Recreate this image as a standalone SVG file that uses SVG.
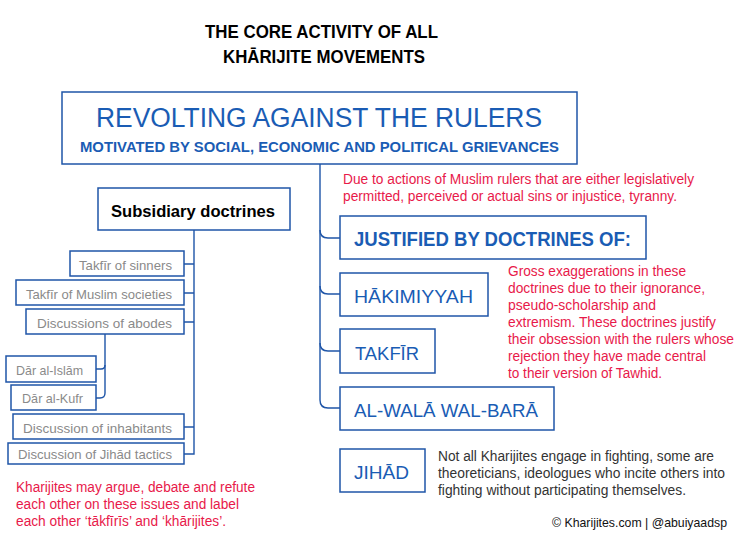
<svg xmlns="http://www.w3.org/2000/svg" width="749" height="545" viewBox="0 0 749 545">
<style>
text{font-family:"Liberation Sans",Arial,sans-serif}
.box{fill:#fff;stroke:#1f55a8;stroke-width:1.5}
.conn{fill:none;stroke:#1f55a8;stroke-width:1.4}
.title{font-weight:bold;font-size:18px;fill:#000}
.blue{fill:#1a5cb4}
.grey{fill:#8a8a8a;font-size:13.5px}
.red{fill:#e8194a;font-size:14px}
.dark{fill:#333;font-size:14px}
</style>
<rect width="749" height="545" fill="#fff"/>
<g id="title">
<text class="title" x="205" y="38" textLength="233" lengthAdjust="spacingAndGlyphs">THE CORE ACTIVITY OF ALL</text>
<text class="title" x="223" y="63" textLength="202" lengthAdjust="spacingAndGlyphs">KHĀRIJITE MOVEMENTS</text>
</g>
<g id="connectors">
<path class="conn" d="M320,164 V400 Q320,408 328,408 H340"/>
<path class="conn" d="M320,230 Q320,238 328,238 H340"/>
<path class="conn" d="M320,286 Q320,294 328,294 H340"/>
<path class="conn" d="M320,343 Q320,351 328,351 H340"/>
<path class="conn" d="M194,230 V454 H184"/>
<path class="conn" d="M184,264 H194 M184,293 H194 M184,322 H194 M184,427 H194"/>
<path class="conn" d="M105,334 V393 Q105,398 100,398 H96"/>
<path class="conn" d="M96,369 H101 Q105,369 105,365"/>
</g>
<g id="main">
<rect class="box" x="62" y="92" width="515" height="72"/>
<text class="blue" x="96" y="127" font-size="27" textLength="446" lengthAdjust="spacingAndGlyphs">REVOLTING AGAINST THE RULERS</text>
<text class="blue" x="80" y="152" font-size="14" font-weight="bold" textLength="479" lengthAdjust="spacingAndGlyphs">MOTIVATED BY SOCIAL, ECONOMIC AND POLITICAL GRIEVANCES</text>
</g>
<g id="reason">
<text class="red" x="343" y="184" textLength="351" lengthAdjust="spacingAndGlyphs">Due to actions of Muslim rulers that are either legislatively</text>
<text class="red" x="343" y="201" textLength="334" lengthAdjust="spacingAndGlyphs">permitted, perceived or actual sins or injustice, tyranny.</text>
</g>
<g id="justified">
<rect class="box" x="340" y="216" width="306" height="43"/>
<text class="blue" x="354" y="246" font-size="20" font-weight="bold" textLength="277" lengthAdjust="spacingAndGlyphs">JUSTIFIED BY DOCTRINES OF:</text>
</g>
<g id="hakimiyyah">
<rect class="box" x="340" y="273" width="148" height="43"/>
<text class="blue" x="354" y="303" font-size="19" textLength="119" lengthAdjust="spacingAndGlyphs">HĀKIMIYYAH</text>
</g>
<g id="takfir">
<rect class="box" x="340" y="329" width="95" height="44"/>
<text class="blue" x="355" y="360" font-size="19" textLength="64" lengthAdjust="spacingAndGlyphs">TAKFĪR</text>
</g>
<g id="walabara">
<rect class="box" x="340" y="387" width="214" height="43"/>
<text class="blue" x="354" y="417" font-size="19" textLength="184" lengthAdjust="spacingAndGlyphs">AL-WALĀ WAL-BARĀ</text>
</g>
<g id="jihad">
<rect class="box" x="340" y="449" width="85" height="43"/>
<text class="blue" x="354" y="479" font-size="19" textLength="55" lengthAdjust="spacingAndGlyphs">JIHĀD</text>
</g>
<g id="gross">
<text class="red" x="508" y="276" textLength="178" lengthAdjust="spacingAndGlyphs">Gross exaggerations in these</text>
<text class="red" x="508" y="293" textLength="197" lengthAdjust="spacingAndGlyphs">doctrines due to their ignorance,</text>
<text class="red" x="508" y="310" textLength="148" lengthAdjust="spacingAndGlyphs">pseudo-scholarship and</text>
<text class="red" x="508" y="327" textLength="208" lengthAdjust="spacingAndGlyphs">extremism. These doctrines justify</text>
<text class="red" x="508" y="344" textLength="226" lengthAdjust="spacingAndGlyphs">their obsession with the rulers whose</text>
<text class="red" x="508" y="361" textLength="198" lengthAdjust="spacingAndGlyphs">rejection they have made central</text>
<text class="red" x="508" y="378" textLength="154" lengthAdjust="spacingAndGlyphs">to their version of Tawhid.</text>
</g>
<g id="fighting">
<text class="dark" x="438" y="461" textLength="276" lengthAdjust="spacingAndGlyphs">Not all Kharijites engage in fighting, some are</text>
<text class="dark" x="438" y="478" textLength="287" lengthAdjust="spacingAndGlyphs">theoreticians, ideologues who incite others into</text>
<text class="dark" x="438" y="495" textLength="248" lengthAdjust="spacingAndGlyphs">fighting without participating themselves.</text>
</g>
<g id="subsidiary">
<rect class="box" x="98" y="188" width="192" height="42"/>
<text x="111" y="217" font-size="17" font-weight="bold" fill="#000" textLength="164" lengthAdjust="spacingAndGlyphs">Subsidiary doctrines</text>
</g>
<g id="sinners">
<rect class="box" x="70" y="251" width="114" height="25"/>
<text class="grey" x="79" y="270" textLength="93" lengthAdjust="spacingAndGlyphs">Takfīr of sinners</text>
</g>
<g id="societies">
<rect class="box" x="16" y="280" width="168" height="25"/>
<text class="grey" x="26" y="299" textLength="146" lengthAdjust="spacingAndGlyphs">Takfīr of Muslim societies</text>
</g>
<g id="abodes">
<rect class="box" x="26" y="309" width="158" height="25"/>
<text class="grey" x="37" y="328" textLength="135" lengthAdjust="spacingAndGlyphs">Discussions of abodes</text>
</g>
<g id="daralislam">
<rect class="box" x="6" y="356" width="90" height="26"/>
<text class="grey" x="16" y="375" textLength="67" lengthAdjust="spacingAndGlyphs">Dār al-Islām</text>
</g>
<g id="daralkufr">
<rect class="box" x="11" y="385" width="85" height="25"/>
<text class="grey" x="22" y="403" textLength="61" lengthAdjust="spacingAndGlyphs">Dār al-Kufr</text>
</g>
<g id="inhabitants">
<rect class="box" x="13" y="414" width="171" height="25"/>
<text class="grey" x="23" y="433" textLength="149" lengthAdjust="spacingAndGlyphs">Discussion of inhabitants</text>
</g>
<g id="tactics">
<rect class="box" x="8" y="443" width="176" height="21"/>
<text class="grey" x="18" y="459" textLength="154" lengthAdjust="spacingAndGlyphs">Discussion of Jihād tactics</text>
</g>
<g id="argue">
<text class="red" x="16" y="492" textLength="239" lengthAdjust="spacingAndGlyphs">Kharijites may argue, debate and refute</text>
<text class="red" x="16" y="509" textLength="223" lengthAdjust="spacingAndGlyphs">each other on these issues and label</text>
<text class="red" x="16" y="526" textLength="210" lengthAdjust="spacingAndGlyphs">each other ‘tākfīrīs’ and ‘khārijites’.</text>
</g>
<g id="copyright">
<text x="552" y="527" font-size="13" fill="#111" textLength="175" lengthAdjust="spacingAndGlyphs">© Kharijites.com | @abuiyaadsp</text>
</g>
</svg>
